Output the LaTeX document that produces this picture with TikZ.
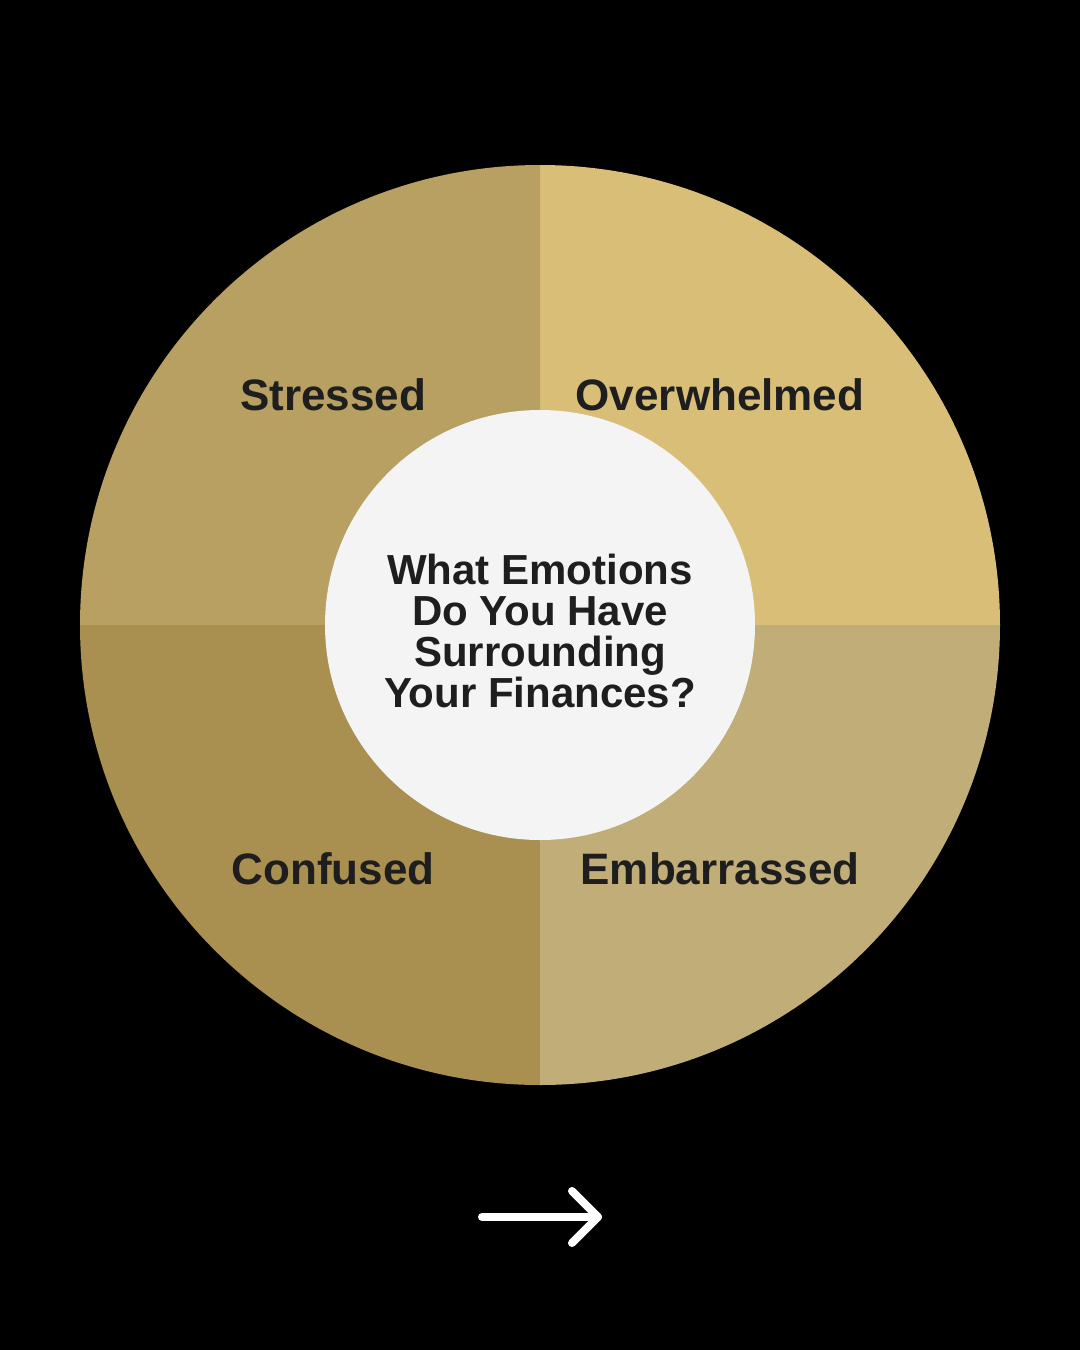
\documentclass[tikz,border=0pt]{standalone}
\usepackage{fontspec}
\setmainfont{Liberation Sans}
\definecolor{qtl}{HTML}{B8A062}
\definecolor{qtr}{HTML}{D9BE78}
\definecolor{qbl}{HTML}{A98F50}
\definecolor{qbr}{HTML}{C1AD78}
\definecolor{inner}{HTML}{F4F4F4}
\definecolor{ink}{HTML}{1E1E1E}
\begin{document}
\begin{tikzpicture}[x=1pt,y=-1pt,
  lab/.style={font=\bfseries\fontsize{44}{50}\selectfont, text=ink}]
\fill[black] (0,0) rectangle (1080,1350);
\useasboundingbox (0,0) rectangle (1080,1350);
\coordinate (c) at (540,625);
\fill[qtr] (c) -- (1000,625) arc[start angle=0,end angle=-90,radius=460] -- cycle;
\fill[qtl] (c) -- (540,165) arc[start angle=-90,end angle=-180,radius=460] -- cycle;
\fill[qbl] (c) -- (80,625) arc[start angle=180,end angle=90,radius=460] -- cycle;
\fill[qbr] (c) -- (540,1085) arc[start angle=90,end angle=0,radius=460] -- cycle;
\node[circle,fill=inner,minimum size=430pt,inner sep=0pt] (hub) at (c) {};
\node[align=center,font=\bfseries\fontsize{42}{41}\selectfont,text=ink] (q) at (540,631) {What Emotions\\Do You Have\\Surrounding\\Your Finances?};
\node[lab] (s) at (333,395) {Stressed};
\node[lab] (o) at (720,395) {Overwhelmed};
\node[lab] (cf) at (333,869) {Confused};
\node[lab] (e) at (720,869) {Embarrassed};
\coordinate (a1) at (482,1217);
\coordinate (a2) at (598,1217);
\draw[white,line width=8pt,line cap=round] (a1) -- (a2);
\draw[white,line width=8pt,line cap=round,line join=round] (572,1191) -- (a2) -- (572,1243);
\end{tikzpicture}
\end{document}
